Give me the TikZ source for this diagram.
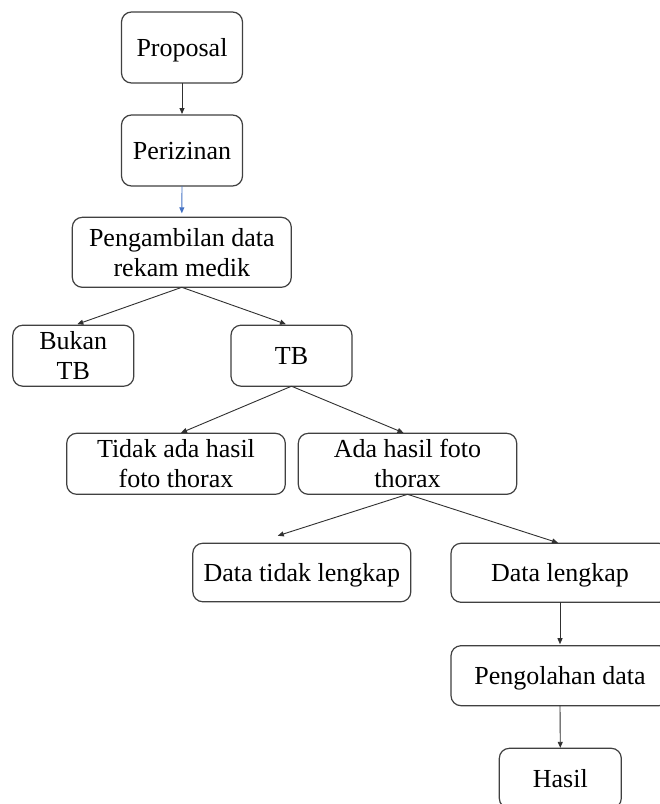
\documentclass[tikz,border=0pt]{standalone}
\usepackage{fontspec}
\setmainfont{Liberation Serif}
\usetikzlibrary{arrows.meta,calc}
\newcommand{\twoline}[2]{\vtop{\halign{\hfil##\hfil\cr #1\cr #2\cr}}}
\definecolor{boxc}{HTML}{404040}
\definecolor{arrc}{HTML}{303030}
\definecolor{bluearr}{HTML}{4472C4}
\begin{document}
\begin{tikzpicture}[x=1pt,y=-1pt,
  box/.style={draw=boxc, line width=1.2pt, rounded corners=10pt, inner sep=0pt, outer sep=0pt,
    font=\fontsize{26}{30}\selectfont, text height=18pt, text depth=0pt},
  two/.style={text height=18pt, text depth=30pt},
  arr/.style={draw=arrc, line width=0.9pt, -{Triangle[length=6pt,width=5pt]}},
  barr/.style={draw=bluearr, line width=0.9pt, -{Triangle[length=6pt,width=5pt]}}]
\useasboundingbox (0,0) rectangle (660,804);
\clip (0,0) rectangle (660,804);
\fill[white] (0,0) rectangle (660,804);

\node[box, minimum width=121pt, minimum height=71pt] (prop) at (182,47.5) {Proposal};
\node[box, minimum width=121pt, minimum height=71pt] (peri) at (182,150.5) {Perizinan};
\node[box, two, minimum width=219pt, minimum height=70pt] (peng) at (181.8,252.3) {\twoline{Pengambilan data}{rekam medik}};
\node[box, two, minimum width=121pt, minimum height=61pt] (bukan) at (73.3,355.7) {\twoline{Bukan}{TB}};
\node[box, minimum width=121pt, minimum height=61pt] (tb) at (291.5,355.7) {TB};
\node[box, two, minimum width=218.6pt, minimum height=61pt] (tidak) at (176,463.8) {\twoline{Tidak ada hasil}{foto thorax}};
\node[box, two, minimum width=218.4pt, minimum height=61pt] (ada) at (407.5,463.8) {\twoline{Ada hasil foto}{thorax}};
\node[box, minimum width=218pt, minimum height=58.5pt] (dtl) at (301.8,572.5) {Data tidak lengkap};
\node[box, minimum width=218pt, minimum height=59pt] (dl) at (560,572.8) {Data lengkap};
\node[box, minimum width=218pt, minimum height=60pt] (olah) at (560,675.7) {Pengolahan data};
\node[box, minimum width=122pt, minimum height=60pt] (hasil) at (560.3,778.3) {Hasil};

\draw[arr] (prop.south) -- ($(peri.north)+(0,-1)$);
\draw[barr] (peri.south) -- ($(peng.north)+(0,-4)$);
\draw[arr] (peng.south) -- ($(bukan.north)+(4,-1)$);
\draw[arr] (peng.south) -- ($(tb.north)+(-5.5,-1)$);
\draw[arr] (tb.south) -- ($(tidak.north)+(5,-0.5)$);
\draw[arr] (tb.south) -- ($(ada.north)+(-4,-0.5)$);
\draw[arr] (ada.south) -- ($(dtl.north)+(-24,-7.5)$);
\draw[arr] (ada.south) -- ($(dl.north)+(-2,-0.5)$);
\draw[arr] (dl.south) -- ($(olah.north)+(0,-1.5)$);
\draw[arr] (olah.south) -- ($(hasil.north)+(0,-0.5)$);
\end{tikzpicture}
\end{document}
